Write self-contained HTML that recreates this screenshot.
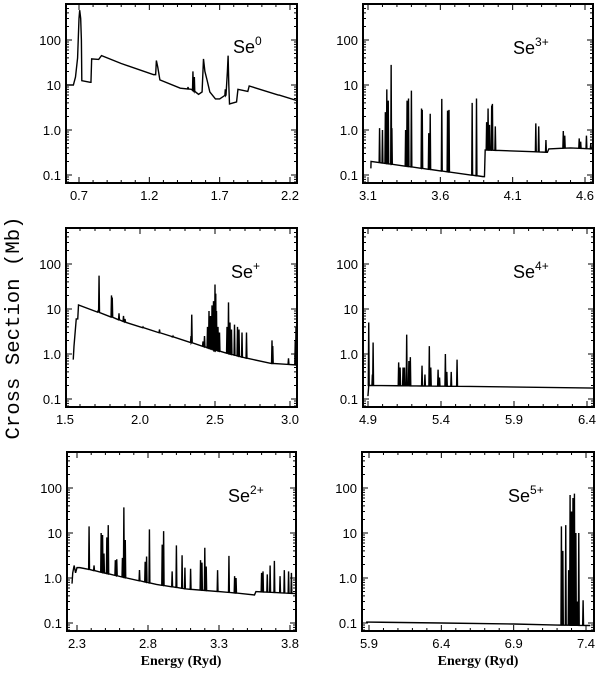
<!DOCTYPE html>
<html><head><meta charset="utf-8"><style>
html,body{margin:0;padding:0;background:#fff;}
svg{display:block;}
text{font-family:"Liberation Sans",sans-serif;fill:#000;}
</style></head><body>
<svg id="fig" width="600" height="673" viewBox="0 0 600 673" xmlns="http://www.w3.org/2000/svg">
<text x="0" y="0" transform="translate(19,328) rotate(-90)" text-anchor="middle" textLength="223" lengthAdjust="spacingAndGlyphs" style="font-family:'Liberation Mono',monospace;font-size:20px;">Cross Section (Mb)</text>
<text x="181" y="665" text-anchor="middle" style="font-family:'Liberation Serif',serif;font-size:14px;font-weight:bold;">Energy (Ryd)</text>
<text x="478" y="665" text-anchor="middle" style="font-family:'Liberation Serif',serif;font-size:14px;font-weight:bold;">Energy (Ryd)</text>
</svg>
<script>
// ---- data (energy in Ryd, cross section in Mb) ----
const se0Bg = [[0.60,10],[0.66,10],[0.675,15],[0.69,40],[0.70,300],[0.705,460],[0.712,300],[0.717,100],[0.72,12.5],[0.78,11.5],[0.785,11.5],[0.79,38],[0.84,37],[0.86,45],[1.0,30],[1.23,17],[1.245,17],[1.25,35],[1.26,25],[1.275,13],[1.42,8.5],[1.50,8],[1.55,6.2],[1.575,7],[1.585,38],[1.595,20],[1.61,13],[1.63,7],[1.67,4.9],[1.70,4.9],[1.745,6],[1.755,20],[1.76,45],[1.765,10],[1.77,3.8],[1.82,4.2],[1.83,8],[1.90,7.2],[1.91,9.5],[2.25,4.5]];
const se0Spikes = [[1.51,20],[1.52,15],[1.475,9],[1.74,8],[2.12,5.5]];
const se1Bg = [[1.555,0.75],[1.56,1.5],[1.575,6],[1.585,6],[1.59,12.3],[1.91,5],[2.22,2.4],[2.49,1.25],[2.70,0.82],[2.87,0.62],[3.05,0.57]];
const se1Spikes = [[1.727,55],[1.72,9],[1.81,20],[1.815,18],[1.86,8],[1.89,7],[1.90,6],[2.02,4],[2.13,3.5],[2.22,2.5],[2.345,7.5],[2.34,2.5],[2.42,1.9],[2.43,2.5],[2.45,4],[2.46,9],[2.47,7],[2.48,12],[2.49,15],[2.495,10],[2.50,35],[2.505,22],[2.51,9],[2.52,4],[2.53,3],[2.58,4],[2.59,14],[2.60,5],[2.61,3.5],[2.63,4.5],[2.65,4],[2.66,3.5],[2.68,3],[2.71,3],[2.88,2],[2.885,1.5],[2.99,0.8],[3.035,2],[3.04,4],[3.045,8]];
const se2Bg = [[2.265,0.75],[2.27,1.3],[2.28,1.9],[2.29,1.3],[2.30,1.7],[2.32,1.7],[2.385,1.55],[2.65,1.0],[2.86,0.72],[3.07,0.57],[3.40,0.47],[3.55,0.42],[3.56,0.5],[3.84,0.45]];
const se2Spikes = [[2.385,14],[2.42,1.9],[2.47,10],[2.48,9],[2.49,3.5],[2.51,8],[2.52,15],[2.57,2.5],[2.58,2.6],[2.62,2.8],[2.63,37],[2.64,7],[2.74,1.5],[2.78,2.3],[2.79,3],[2.81,12],[2.90,5.5],[2.91,11],[2.97,1.4],[3.00,5.3],[3.04,3.2],[3.06,1.7],[3.10,1.6],[3.17,2.5],[3.18,2.2],[3.20,4.7],[3.21,1.8],[3.29,1.5],[3.37,3.1],[3.41,1.1],[3.42,1.0],[3.60,1.3],[3.61,1.4],[3.64,1.2],[3.66,1.9],[3.69,2.4],[3.73,1.1],[3.76,1.5],[3.79,1.4],[3.81,1.3],[3.84,1.4]];
const se3Bg = [[3.12,0.14],[3.121,0.2],[3.895,0.092],[3.905,0.092],[3.91,0.36],[4.24,0.33],[4.34,0.32],[4.35,0.38],[4.50,0.40],[4.65,0.38]];
const se3Spikes = [[3.18,1.1],[3.20,1.0],[3.22,2.5],[3.23,8],[3.24,4.5],[3.26,28],[3.265,1.1],[3.36,1.0],[3.37,4.5],[3.38,5],[3.40,7.5],[3.47,3],[3.475,2.8],[3.52,0.85],[3.53,2.3],[3.61,4.9],[3.65,2.7],[3.66,2.8],[3.82,4],[3.85,5],[3.92,1.5],[3.93,3],[3.94,1.3],[3.955,3.5],[3.96,3.8],[3.98,1.2],[4.26,1.4],[4.28,1.2],[4.33,0.6],[4.45,0.95],[4.46,0.75],[4.56,0.65],[4.57,0.55],[4.61,0.75],[4.64,0.5]];
const se4Bg = [[4.895,0.12],[4.90,0.12],[4.905,0.2],[5.60,0.19],[6.45,0.175]];
const se4Spikes = [[4.905,5],[4.93,0.35],[4.935,1.8],[5.11,0.65],[5.12,0.5],[5.14,0.5],[5.15,0.5],[5.165,2.7],[5.18,0.7],[5.19,0.85],[5.27,0.55],[5.29,0.35],[5.32,1.5],[5.33,0.5],[5.38,0.45],[5.39,0.3],[5.43,1.0],[5.44,0.4],[5.47,0.4],[5.51,0.75]];
const se5Bg = [[5.88,0.105],[6.40,0.1],[6.90,0.095],[7.20,0.09],[7.43,0.088]];
const se5Spikes = [[7.23,14],[7.24,4],[7.26,15],[7.28,1.5],[7.29,70],[7.30,30],[7.31,60],[7.32,75],[7.33,10],[7.34,0.3],[7.35,10],[7.38,0.32]];
const yTickValues = [0.1, 1, 10, 100];
const yTickLabels = ["0.1", "1.0", "10", "100"];
const ionNames = ["0", "+", "2+", "3+", "4+", "5+"];
const xTickStarts = [0.7, 1.5, 2.3, 3.1, 4.9, 5.9];

const NS = "http://www.w3.org/2000/svg";
const svg = document.getElementById("fig");
// frame layout: [left, right, top, bottom, xAtLeftTick(px), xAtLastTick(px), ionLabelX, ionLabelY]
const layouts = [
  [66,297,4,183,79,290,233,53],
  [66,297,228,407,65,290,231,278],
  [67,296,452,631,77,290,228,502],
  [363,593,4,183,368,585,513,54],
  [363,594,228,407,368,587,513,278],
  [362,594,452,631,369,586,508,502]
];
const bgs = [se0Bg, se1Bg, se2Bg, se3Bg, se4Bg, se5Bg];
const spikes = [se0Spikes, se1Spikes, se2Spikes, se3Spikes, se4Spikes, se5Spikes];
const names = ["se0","se1","se2","se3","se4","se5"];

function mk(tag, attrs){ const e=document.createElementNS(NS,tag); for(const k in attrs) e.setAttribute(k,attrs[k]); return e; }

function interpLog(bg, x){
  for(let i=0;i<bg.length-1;i++){
    const a=bg[i], b=bg[i+1];
    if(x>=a[0] && x<=b[0] && b[0]>a[0]){
      const t=(x-a[0])/(b[0]-a[0]);
      return Math.pow(10, Math.log10(a[1])+t*(Math.log10(b[1])-Math.log10(a[1])));
    }
  }
  return x<bg[0][0]?bg[0][1]:bg[bg.length-1][1];
}

for(let p=0;p<6;p++){
  const [L,R,T,B,xt0,xt1,lx,ly] = layouts[p];
  const x0 = xTickStarts[p];
  const sx = (xt1-xt0)/1.5;
  const xs = v => xt0 + (v-x0)*sx;
  const y100 = T+36;
  const ys = v => y100 + 45*(2-Math.log10(v));
  const g = mk("g",{});
  
  
  svg.appendChild(g);
  const cid = "clip"+p;
  const cp = mk("clipPath",{id:cid}); cp.appendChild(mk("rect",{x:L,y:T,width:R-L,height:B-T})); g.appendChild(cp);

  const bg = bgs[p], sp = spikes[p].slice().sort((a,b)=>a[0]-b[0]);
  const d = 0.003;
  let pts = [];
  let si = 0;
  for(let i=0;i<bg.length;i++){
    pts.push([bg[i][0], bg[i][1]]);
    if(i<bg.length-1){
      const nx = bg[i+1][0];
      while(si<sp.length && sp[si][0]<nx){
        if(sp[si][0]>=bg[i][0]){
          const x=sp[si][0], base=interpLog(bg,x);
          pts.push([x-d,base],[x,Math.max(sp[si][1],base)],[x+d,base]);
        }
        si++;
      }
    }
  }
  let dd = pts.map((q,i)=>(i?"L":"M")+xs(q[0]).toFixed(2)+","+ys(q[1]).toFixed(2)).join("");
  const path = mk("path",{d:dd,fill:"none",stroke:"#000","stroke-width":"1.4","stroke-linejoin":"miter","clip-path":"url(#"+cid+")"});
  
  
  g.appendChild(path);

  const fr = mk("rect",{x:L,y:T,width:R-L,height:B-T,fill:"none",stroke:"#000","stroke-width":"2"});
  
  
  g.appendChild(fr);

  let td = "";
  for(let k=-2;k<=20;k++){
    const v = x0 + k*0.1;
    const px = xs(v);
    if(px<L+1||px>R-1) continue;
    const major = (Math.abs(k%5)===0);
    const len = major?6:3;
    td += `M${px},${B}v${-len}M${px},${T}v${len}`;
  }
  for(let dec=-2;dec<=2;dec++){
    for(let m=1;m<=9;m++){
      const v = m*Math.pow(10,dec);
      const py = ys(v);
      if(py<T+1||py>B-1) continue;
      const len = m===1?6:3;
      td += `M${L},${py}h${len}M${R},${py}h${-len}`;
    }
  }
  const tk = mk("path",{d:td,stroke:"#000","stroke-width":"1",fill:"none"});
  
  
  g.appendChild(tk);

  for(let i=0;i<yTickValues.length;i++){
    const t = mk("text",{x:L-5,y:ys(yTickValues[i])+5,"text-anchor":"end","font-size":"13"});
    t.textContent = yTickLabels[i];
    
    
    g.appendChild(t);
  }
  for(let k=0;k<4;k++){
    const v = x0 + 0.5*k;
    const t = mk("text",{x:xs(v),y:B+17,"text-anchor":"middle","font-size":"13"});
    t.textContent = v.toFixed(1);
    
    
    g.appendChild(t);
  }
  const il = mk("text",{x:lx,y:ly,"font-size":"18"});
  il.textContent = "Se";
  const sup = mk("tspan",{dy:"-8","font-size":"12"});
  sup.textContent = ionNames[p];
  il.appendChild(sup);
  
  
  g.appendChild(il);
}
</script>
</body></html>
